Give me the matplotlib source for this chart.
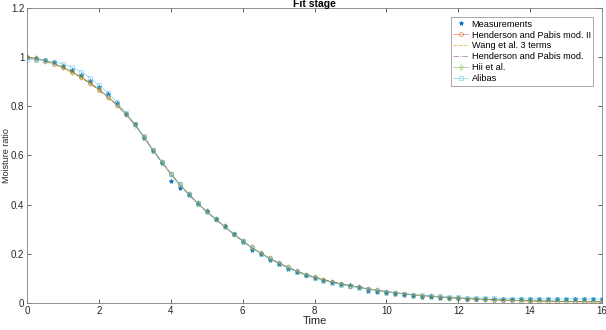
import matplotlib
matplotlib.use("Agg")
import matplotlib.pyplot as plt
import numpy as np

# time grid of the samples (every 0.25 h from 0 to 16)
time = np.arange(0, 16.01, 0.25)

measured = [1.000, 0.996, 0.990, 0.978, 0.965, 0.946, 0.929, 0.904,
            0.877, 0.849, 0.815, 0.770, 0.726, 0.672, 0.618, 0.570,
            0.495, 0.466, 0.440, 0.404, 0.373, 0.340, 0.312, 0.279,
            0.248, 0.214, 0.198, 0.176, 0.157, 0.139, 0.124, 0.113,
            0.103, 0.093, 0.084, 0.077, 0.072, 0.066, 0.047, 0.044,
            0.040, 0.036, 0.031, 0.028, 0.025, 0.024, 0.022, 0.021,
            0.019, 0.018, 0.017, 0.017, 0.016, 0.016, 0.016, 0.015,
            0.015, 0.015, 0.015, 0.015, 0.015, 0.015, 0.015, 0.015,
            0.015]

hp_mod2 = [1.000, 0.994, 0.985, 0.973, 0.958, 0.940, 0.919, 0.895,
           0.868, 0.838, 0.806, 0.769, 0.726, 0.676, 0.622, 0.573,
           0.525, 0.482, 0.442, 0.405, 0.372, 0.341, 0.311, 0.281,
           0.252, 0.226, 0.203, 0.182, 0.162, 0.145, 0.129, 0.115,
           0.104, 0.094, 0.085, 0.077, 0.070, 0.063, 0.057, 0.051,
           0.046, 0.041, 0.037, 0.033, 0.030, 0.027, 0.024, 0.021,
           0.019, 0.017, 0.015, 0.014, 0.012, 0.011, 0.010, 0.009,
           0.008, 0.008, 0.007, 0.006, 0.006, 0.005, 0.005, 0.005,
           0.004]

wang3 = [1.000, 0.993, 0.983, 0.970, 0.955, 0.937, 0.916, 0.892,
         0.866, 0.837, 0.805, 0.769, 0.727, 0.678, 0.625, 0.576,
         0.528, 0.484, 0.444, 0.406, 0.372, 0.340, 0.309, 0.280,
         0.251, 0.225, 0.202, 0.181, 0.162, 0.145, 0.130, 0.116,
         0.105, 0.095, 0.086, 0.078, 0.070, 0.063, 0.057, 0.051,
         0.046, 0.041, 0.037, 0.033, 0.029, 0.026, 0.023, 0.021,
         0.019, 0.017, 0.015, 0.013, 0.012, 0.011, 0.010, 0.009,
         0.008, 0.007, 0.007, 0.006, 0.005, 0.005, 0.004, 0.004,
         0.004]

hp_mod = [0.998, 0.993, 0.984, 0.972, 0.957, 0.939, 0.918, 0.894,
          0.867, 0.837, 0.805, 0.768, 0.725, 0.675, 0.621, 0.572,
          0.524, 0.481, 0.441, 0.404, 0.371, 0.340, 0.310, 0.280,
          0.252, 0.226, 0.203, 0.182, 0.163, 0.146, 0.130, 0.116,
          0.105, 0.095, 0.086, 0.078, 0.071, 0.064, 0.058, 0.052,
          0.047, 0.042, 0.038, 0.034, 0.030, 0.027, 0.024, 0.022,
          0.020, 0.018, 0.016, 0.014, 0.013, 0.012, 0.011, 0.010,
          0.009, 0.008, 0.007, 0.007, 0.006, 0.006, 0.005, 0.005,
          0.005]

hii = [1.000, 0.995, 0.986, 0.974, 0.959, 0.941, 0.920, 0.896,
       0.869, 0.839, 0.806, 0.768, 0.725, 0.675, 0.621, 0.572,
       0.524, 0.481, 0.442, 0.405, 0.372, 0.341, 0.311, 0.281,
       0.252, 0.226, 0.203, 0.182, 0.162, 0.145, 0.129, 0.115,
       0.104, 0.094, 0.085, 0.077, 0.070, 0.063, 0.057, 0.051,
       0.046, 0.041, 0.037, 0.033, 0.030, 0.027, 0.024, 0.022,
       0.020, 0.018, 0.016, 0.015, 0.013, 0.012, 0.011, 0.010,
       0.009, 0.008, 0.008, 0.007, 0.007, 0.006, 0.006, 0.006,
       0.005]

alibas = [0.990, 0.990, 0.987, 0.981, 0.972, 0.958, 0.940, 0.916,
          0.887, 0.854, 0.816, 0.774, 0.728, 0.677, 0.623, 0.574,
          0.526, 0.482, 0.442, 0.405, 0.371, 0.340, 0.310, 0.280,
          0.251, 0.225, 0.201, 0.180, 0.160, 0.143, 0.127, 0.113,
          0.101, 0.091, 0.082, 0.074, 0.067, 0.061, 0.055, 0.050,
          0.045, 0.041, 0.037, 0.034, 0.031, 0.029, 0.027, 0.025,
          0.023, 0.022, 0.021, 0.020, 0.019, 0.018, 0.018, 0.017,
          0.017, 0.017, 0.016, 0.016, 0.016, 0.016, 0.016, 0.016,
          0.016]

xticks = [0, 2, 4, 6, 8, 10, 12, 14, 16]
yticks = [0, 0.2, 0.4, 0.6, 0.8, 1.0, 1.2]
ytick_labels = ['0', '0.2', '0.4', '0.6', '0.8', '1', '1.2']

# matlab default colour order
c_blue = (0.0, 0.447, 0.741)
c_orange = (0.85, 0.325, 0.098)
c_yellow = (0.929, 0.694, 0.125)
c_purple = (0.494, 0.184, 0.556)
c_green = (0.466, 0.674, 0.188)
c_cyan = (0.301, 0.745, 0.933)

plt.rcParams['font.family'] = ['Liberation Sans', 'DejaVu Sans']
txt = '#262626'

fig = plt.figure(figsize=(6.06, 3.3), dpi=100)
ax = fig.add_axes([0.0446, 0.082, 0.9488, 0.894])

ax.plot(time, measured, '*', color=c_blue, ms=3.2, mew=0.6, label='Measurements')
ax.plot(time, hp_mod2, '-o', color=c_orange, ms=3, lw=0.6, mfc='none', mew=0.6,
        alpha=0.55, label='Henderson and Pabis mod. II')
ax.plot(time, wang3, '--', color=c_yellow, lw=0.7, alpha=0.7, label='Wang et al. 3 terms')
ax.plot(time, hp_mod, '-.', color=c_purple, lw=0.6, alpha=0.6, label='Henderson and Pabis mod.')
ax.plot(time, hii, '-d', color=c_green, ms=3, lw=0.6, mfc='none', mew=0.6,
        alpha=0.55, label='Hii et al.')
ax.plot(time, alibas, '-s', color=c_cyan, ms=3, lw=0.6, mfc='none', mew=0.6,
        alpha=0.55, label='Alibas')

ax.set_xlim(0, 16)
ax.set_ylim(0, 1.2)
ax.set_xticks(xticks)
ax.set_yticks(yticks)
ax.set_yticklabels(ytick_labels)
ax.tick_params(direction='in', length=3, width=0.5, labelsize=7, colors=txt,
               top=True, right=True, pad=2)
for s in ax.spines.values():
    s.set_color('#808080')
    s.set_linewidth(0.6)

ax.set_title('Fit stage', fontsize=7.5, fontweight='bold', color='black', pad=1)
ax.set_xlabel('Time', fontsize=8, color=txt, labelpad=0)
ax.set_ylabel('Moisture ratio', fontsize=6.5, color=txt)
ax.yaxis.set_label_coords(-0.028, 0.5)

leg = ax.legend(loc='upper right', fontsize=6.6, frameon=True, fancybox=False,
                borderpad=0.3, labelspacing=0.2, handlelength=1.6,
                handletextpad=0.4, bbox_to_anchor=(0.993, 0.985))
leg.get_frame().set_edgecolor('#808080')
leg.get_frame().set_linewidth(0.6)

fig.savefig('out.png', dpi=100)
